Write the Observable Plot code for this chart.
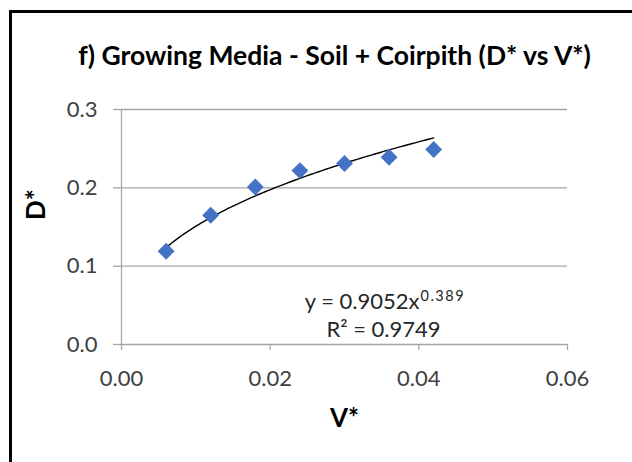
<!DOCTYPE html>
<html>
<head>
<meta charset="utf-8">
<script src="https://cdn.jsdelivr.net/npm/d3@7"></script>
<script src="https://cdn.jsdelivr.net/npm/@observablehq/plot@0.6"></script>
<style>
  html, body { margin: 0; padding: 0; background: #fff; }
  #wrap { position: relative; width: 632px; height: 462px; overflow: hidden; }
  #border { position: absolute; left: 9px; top: 10px; width: 700px; height: 600px;
            border-top: 3px solid #000; border-left: 3px solid #000; pointer-events: none; }
</style>
</head>
<body>
<div id="wrap"><div id="chart"></div><div id="border"></div></div>
<script>
// ---- data ----
const vStar = [0.006, 0.012, 0.018, 0.024, 0.030, 0.036, 0.042];
const dStar = [0.119, 0.165, 0.201, 0.222, 0.231, 0.239, 0.249];
const xTicks = [0, 0.02, 0.04, 0.06];
const yTicks = [0, 0.1, 0.2, 0.3];
const titleText = "f) Growing Media - Soil + Coirpith (D* vs V*)";
const xLabel = "V*";
const yLabel = "D*";
// power trendline shown on the chart: y = a x^b
const trendA = 0.9052;
const trendB = 0.389;
const eqMain = "y = 0.9052x";
const eqExp = "0.389";
const r2Text = "R² = 0.9749";

const points = vStar.map((v, i) => ({v, d: dStar[i]}));
const trend = d3.range(0, 101).map(i => {
  const v = vStar[0] + (vStar[vStar.length - 1] - vStar[0]) * i / 100;
  return {v, d: trendA * Math.pow(v, trendB)};
});

const grid = "#a6a6a6";
const font = "Lato, 'Open Sans', sans-serif";

const plot = Plot.plot({
  width: 632,
  height: 462,
  marginLeft: 121,
  marginRight: 65,
  marginTop: 109,
  marginBottom: 118,
  x: {domain: [0, 0.06]},
  y: {domain: [0, 0.3]},
  style: {fontFamily: font, background: "white", overflow: "visible"},
  marks: [
    Plot.gridY(yTicks, {stroke: grid, strokeOpacity: 1, strokeWidth: 1.3}),
    Plot.ruleX([0], {stroke: grid, strokeWidth: 1.3}),
    Plot.axisY(yTicks, {tickSize: 8, tickPadding: 16, tickFormat: d => d.toFixed(1),
      fontSize: 22, stroke: grid, strokeWidth: 1.3, fill: "#404040", label: null}),
    Plot.axisX(xTicks, {tickSize: 6, tickPadding: 20, tickFormat: d => d.toFixed(2),
      fontSize: 22, stroke: grid, strokeWidth: 1.3, fill: "#404040", label: null}),
    Plot.line(trend, {x: "v", y: "d", stroke: "#000", strokeWidth: 1.4}),
    Plot.dot(points, {x: "v", y: "d", symbol: "diamond2", r: 7.6, fill: "#4472c4", stroke: "none"}),
    Plot.text([titleText], {frameAnchor: "top", lineAnchor: "middle", dx: -10, dy: -53,
      fontSize: 26.5, fontWeight: "bold", fill: "#000"}),
    Plot.text([xLabel], {frameAnchor: "bottom", lineAnchor: "middle", dy: 74,
      fontSize: 26, fontWeight: "bold", fill: "#000"}),
    Plot.text([yLabel], {frameAnchor: "left", lineAnchor: "middle", dx: -85, dy: -7, rotate: -90,
      fontSize: 26, fontWeight: "bold", fill: "#000"}),
    Plot.text([eqMain], {frameAnchor: "top-left", textAnchor: "end", lineAnchor: "middle",
      dx: 298, dy: 192, fontSize: 22, fill: "#262626"}),
    Plot.text([eqExp], {frameAnchor: "top-left", textAnchor: "start", lineAnchor: "middle",
      dx: 299, dy: 187, fontSize: 14.5, fill: "#262626"}),
    Plot.text([r2Text], {frameAnchor: "top-left", textAnchor: "middle", lineAnchor: "middle",
      dx: 262, dy: 220, fontSize: 22, fill: "#262626"})
  ]
});
d3.select(plot).selectAll("text").filter(function() { return this.textContent === eqExp; })
  .style("letter-spacing", "1.5px");
document.getElementById("chart").appendChild(plot);
</script>
</body>
</html>
